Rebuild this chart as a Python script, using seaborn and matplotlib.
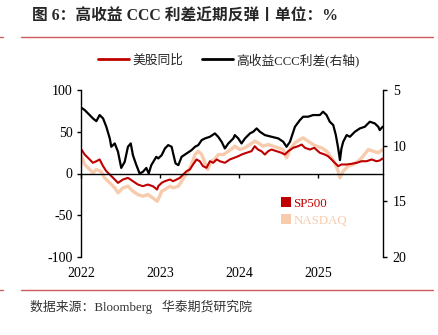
import matplotlib
matplotlib.use("Agg")
import matplotlib.pyplot as plt
from matplotlib.patches import Patch
from matplotlib.lines import Line2D
import seaborn as sns
import pandas as pd

sns.set_theme(style="white")
plt.rcParams['font.family'] = ['Liberation Serif', 'Noto Sans CJK SC', 'DejaVu Sans']
plt.rcParams['axes.unicode_minus'] = False

# ---------------- data ----------------
ccc_dates = ["2022-01-03", "2022-01-18", "2022-02-10", "2022-02-25", "2022-03-13", "2022-03-28",
             "2022-04-13", "2022-04-28", "2022-05-14", "2022-05-21", "2022-06-06", "2022-06-21",
             "2022-07-06", "2022-07-22", "2022-08-06", "2022-08-19", "2022-08-29", "2022-09-13",
             "2022-09-29", "2022-10-14", "2022-10-30", "2022-11-10", "2022-11-22", "2022-12-15",
             "2022-12-24", "2023-01-09", "2023-01-24", "2023-02-08", "2023-02-24", "2023-03-03",
             "2023-03-14", "2023-03-27", "2023-04-11", "2023-05-04", "2023-05-27", "2023-06-12",
             "2023-06-27", "2023-07-13", "2023-07-28", "2023-08-20", "2023-09-12", "2023-09-27",
             "2023-10-13", "2023-10-28", "2023-11-13", "2023-12-06", "2023-12-13", "2023-12-29",
             "2024-01-13", "2024-01-29", "2024-02-21", "2024-03-07", "2024-03-23", "2024-04-07",
             "2024-04-30", "2024-05-31", "2024-07-01", "2024-07-24", "2024-08-08", "2024-08-24",
             "2024-09-16", "2024-10-09", "2024-10-24", "2024-11-16", "2024-12-09", "2024-12-17",
             "2025-01-09", "2025-01-24", "2025-02-09", "2025-02-24", "2025-03-12", "2025-03-24",
             "2025-04-04", "2025-04-12", "2025-04-19", "2025-04-27", "2025-05-13", "2025-05-28",
             "2025-06-20", "2025-07-13", "2025-08-05", "2025-08-28", "2025-09-20", "2025-10-06",
             "2025-10-13", "2025-10-26"]
ccc_spread = [6.6, 6.8, 7.25, 7.55, 7.8, 7.25,
              7.55, 8.3, 9.35, 10.1, 9.8, 10.55,
              12.0, 11.45, 10.1, 9.8, 10.85, 11.7,
              12.5, 12.35, 12.0, 12.5, 11.75, 11.0,
              11.15, 10.85, 10.25, 9.95, 10.1, 10.7,
              11.6, 11.75, 11.0, 10.7, 10.4, 10.1,
              9.95, 9.5, 9.35, 9.2, 8.9, 9.2,
              9.65, 10.25, 9.8, 9.35, 9.05, 9.35,
              9.8, 9.35, 8.9, 8.75, 8.45, 8.75,
              9.05, 9.2, 9.35, 9.65, 10.1, 9.65,
              8.3, 7.7, 7.4, 7.4, 7.25, 7.25,
              7.25, 6.95, 7.25, 7.85, 8.15, 9.05,
              10.25, 11.3, 10.25, 9.65, 9.05, 9.2,
              8.75, 8.45, 8.3, 7.85, 8.0, 8.3,
              8.6, 8.3]

sp_dates = ["2022-01-03", "2022-01-18", "2022-02-10", "2022-02-25", "2022-03-13", "2022-03-28",
            "2022-04-13", "2022-04-28", "2022-05-14", "2022-06-06", "2022-06-21", "2022-07-14",
            "2022-08-06", "2022-08-29", "2022-09-21", "2022-10-14", "2022-11-06", "2022-11-29",
            "2022-12-19", "2022-12-24", "2023-01-09", "2023-01-24", "2023-02-16", "2023-03-03",
            "2023-03-19", "2023-04-03", "2023-04-18", "2023-05-04", "2023-05-19", "2023-06-03",
            "2023-06-19", "2023-07-04", "2023-07-19", "2023-08-04", "2023-08-20", "2023-09-04",
            "2023-09-20", "2023-10-05", "2023-10-28", "2023-11-20", "2023-12-10", "2023-12-29",
            "2024-01-13", "2024-02-05", "2024-02-28", "2024-03-14", "2024-03-29", "2024-04-14",
            "2024-04-30", "2024-05-15", "2024-05-31", "2024-06-23", "2024-07-16", "2024-07-31",
            "2024-08-16", "2024-09-08", "2024-10-01", "2024-10-17", "2024-11-01", "2024-11-24",
            "2024-12-14", "2025-01-09", "2025-02-01", "2025-02-16", "2025-03-04", "2025-03-19",
            "2025-04-04", "2025-04-19", "2025-05-13", "2025-06-05", "2025-06-28", "2025-07-21",
            "2025-08-13", "2025-09-05", "2025-09-28", "2025-10-13", "2025-10-26"]
sp500_yoy = [28.7, 22.7, 16.8, 12.8, 14.7, 16.8,
             8.8, 2.8, -1.2, -7.2, -11.2, -7.2,
             -5.2, -9.2, -13.2, -15.2, -13.2, -15.2,
             -19.2, -15.2, -11.2, -9.2, -7.2, -9.2,
             -7.2, -5.2, -1.2, 2.8, 4.8, 10.8,
             16.8, 14.7, 8.8, 6.8, 14.7, 12.8,
             16.8, 14.7, 12.8, 16.8, 18.8, 20.7,
             22.7, 24.8, 26.7, 32.7, 28.7, 26.7,
             22.7, 26.7, 28.7, 26.7, 24.8, 22.7,
             26.7, 30.8, 32.7, 34.7, 30.8, 28.7,
             30.8, 24.8, 22.7, 20.7, 16.8, 12.8,
             8.8, 10.8, 10.8, 11.6, 12.8, 14.7,
             14.7, 16.8, 14.7, 15.6, 18.0]

nq_dates = ["2022-01-03", "2022-01-18", "2022-02-10", "2022-02-25", "2022-03-13", "2022-04-05",
            "2022-04-20", "2022-05-14", "2022-06-06", "2022-06-21", "2022-07-14", "2022-08-06",
            "2022-08-29", "2022-09-21", "2022-10-14", "2022-11-06", "2022-11-29", "2022-12-19",
            "2022-12-27", "2023-01-09", "2023-01-24", "2023-02-16", "2023-03-03", "2023-03-27",
            "2023-04-11", "2023-04-26", "2023-05-12", "2023-05-27", "2023-06-12", "2023-06-27",
            "2023-07-13", "2023-07-28", "2023-08-10", "2023-08-25", "2023-09-10", "2023-09-28",
            "2023-10-22", "2023-11-13", "2023-12-06", "2023-12-13", "2024-01-05", "2024-01-29",
            "2024-02-21", "2024-03-14", "2024-03-29", "2024-04-21", "2024-05-15", "2024-06-07",
            "2024-06-30", "2024-07-24", "2024-08-08", "2024-08-24", "2024-09-16", "2024-10-09",
            "2024-10-24", "2024-11-16", "2024-12-09", "2024-12-25", "2025-01-17", "2025-02-09",
            "2025-03-04", "2025-03-19", "2025-04-04", "2025-04-12", "2025-04-27", "2025-05-20",
            "2025-06-12", "2025-07-05", "2025-07-28", "2025-08-21", "2025-09-13", "2025-10-06",
            "2025-10-26"]
nasdaq_yoy = [20.7, 10.8, 4.8, 0.8, 4.8, 2.0,
              -5.2, -11.2, -17.2, -23.2, -17.2, -15.2,
              -21.2, -25.2, -27.2, -25.2, -29.2, -33.2,
              -29.2, -21.2, -19.2, -15.2, -17.2, -15.2,
              -9.2, -3.2, 2.8, 10.8, 22.7, 26.7,
              22.7, 12.8, 4.8, 14.7, 16.8, 22.7,
              22.7, 26.7, 30.8, 32.7, 28.7, 30.8,
              34.7, 38.7, 36.8, 32.7, 34.7, 32.7,
              30.8, 28.7, 18.8, 28.7, 36.8, 40.7,
              42.7, 38.7, 34.7, 32.7, 30.8, 26.7,
              18.8, 12.8, 2.8, -5.2, 2.8, 8.8,
              10.8, 14.7, 20.7, 28.7, 26.7, 24.8,
              28.7]

year_ticks = ["2022-01-01", "2023-01-01", "2024-01-01", "2025-01-01"]
year_labels = ["2022", "2023", "2024", "2025"]
left_ticks = [-100, -50, 0, 50, 100]
right_ticks = [5, 10, 15, 20]

title = "图 6：高收益 CCC 利差近期反弹丨单位：%"
source = "数据来源：Bloomberg   华泰期货研究院"

# ---------------- frames ----------------
df_ccc = pd.DataFrame({"date": pd.to_datetime(ccc_dates), "v": ccc_spread})
df_sp = pd.DataFrame({"date": pd.to_datetime(sp_dates), "v": sp500_yoy})
df_nq = pd.DataFrame({"date": pd.to_datetime(nq_dates), "v": nasdaq_yoy})

RED = "#c00000"
PINK = "#f8cbad"
RULE = "#cd5b5b"
FAM = ["Liberation Serif", "Noto Sans CJK SC"]

fig = plt.figure(figsize=(4.39, 3.35), dpi=100)
ax = fig.add_axes([81 / 439, 1 - 257 / 335, 302 / 439, 167 / 335])
ax.set_facecolor("none")

sns.lineplot(data=df_nq, x="date", y="v", ax=ax, color=PINK, lw=2.4, legend=False)
sns.lineplot(data=df_sp, x="date", y="v", ax=ax, color=RED, lw=1.5, legend=False)
ax.set_ylim(-100, 100)
ax.set_yticks(left_ticks)
ax.set_xlim(pd.Timestamp("2022-01-01"), pd.Timestamp("2025-10-28"))
ax.set_xlabel("")
ax.set_ylabel("")

for s in ["top", "right"]:
    ax.spines[s].set_visible(False)
ax.spines["left"].set_color("black")
ax.spines["left"].set_linewidth(1)
ax.spines["bottom"].set_position(("data", 0))
ax.spines["bottom"].set_color("black")
ax.spines["bottom"].set_linewidth(1)
xt = pd.to_datetime(year_ticks)
ax.set_xticks(xt)
ax.tick_params(axis="x", direction="out", length=3, width=1, colors="black",
               labelbottom=False, bottom=True)
ax.tick_params(axis="y", direction="out", length=3, width=1, colors="black",
               labelsize=10, pad=3, left=True)

sec = ax.secondary_xaxis("bottom")
sec.set_xticks(xt)
sec.set_xticklabels(year_labels)
sec.tick_params(length=0, labelsize=10, pad=7, colors="black")
sec.spines["bottom"].set_visible(False)

ax2 = ax.twinx()
sns.lineplot(data=df_ccc, x="date", y="v", ax=ax2, color="black", lw=1.6, legend=False)
ax2.set_ylim(20, 5)
ax2.set_yticks(right_ticks)
ax2.set_ylabel("")
for s in ["top", "left", "bottom"]:
    ax2.spines[s].set_visible(False)
ax2.spines["right"].set_color("black")
ax2.spines["right"].set_linewidth(1)
ax2.tick_params(axis="y", direction="out", length=3, width=1, colors="black",
                labelsize=10, pad=4, right=True)

# top legend
h1 = [Line2D([], [], color=RED, lw=2), Line2D([], [], color="black", lw=2)]
fig.legend(h1, ["美股同比", "高收益CCC利差(右轴)"], loc="center",
           bbox_to_anchor=(229 / 439, 1 - 60 / 335), ncol=2, frameon=False,
           handlelength=2.4, handletextpad=0.25, columnspacing=1.5,
           prop={"family": FAM, "size": 9.2})

# inner legend
h2 = [Patch(facecolor=RED, edgecolor="none"), Patch(facecolor=PINK, edgecolor="none")]
leg2 = ax2.legend(h2, ["SP500", "NASDAQ"], loc="upper left",
                  bbox_to_anchor=((281 - 81) / 302, (257 - 197) / 167), frameon=False,
                  fontsize=9.3, handlelength=0.75, handleheight=0.85, handletextpad=0.2,
                  labelspacing=0.35, borderpad=0, borderaxespad=0)
for t, c in zip(leg2.get_texts(), [RED, PINK]):
    t.set_color(c)

# title, rules, source
fig.text(32 / 439, 1 - 17 / 335, title, ha="left", va="center", fontsize=11.3,
         fontweight="bold", family=FAM)
for yy in [37, 290]:
    fig.add_artist(Line2D([21 / 439, 433 / 439], [1 - yy / 335] * 2, color=RULE, lw=1))
    fig.add_artist(Line2D([0, 3 / 439], [1 - yy / 335] * 2, color=RULE, lw=1))
fig.text(30 / 439, 1 - 307 / 335, source, ha="left", va="center", fontsize=9.3,
         color="#333333", family=FAM)

fig.savefig("out.png", dpi=100)
